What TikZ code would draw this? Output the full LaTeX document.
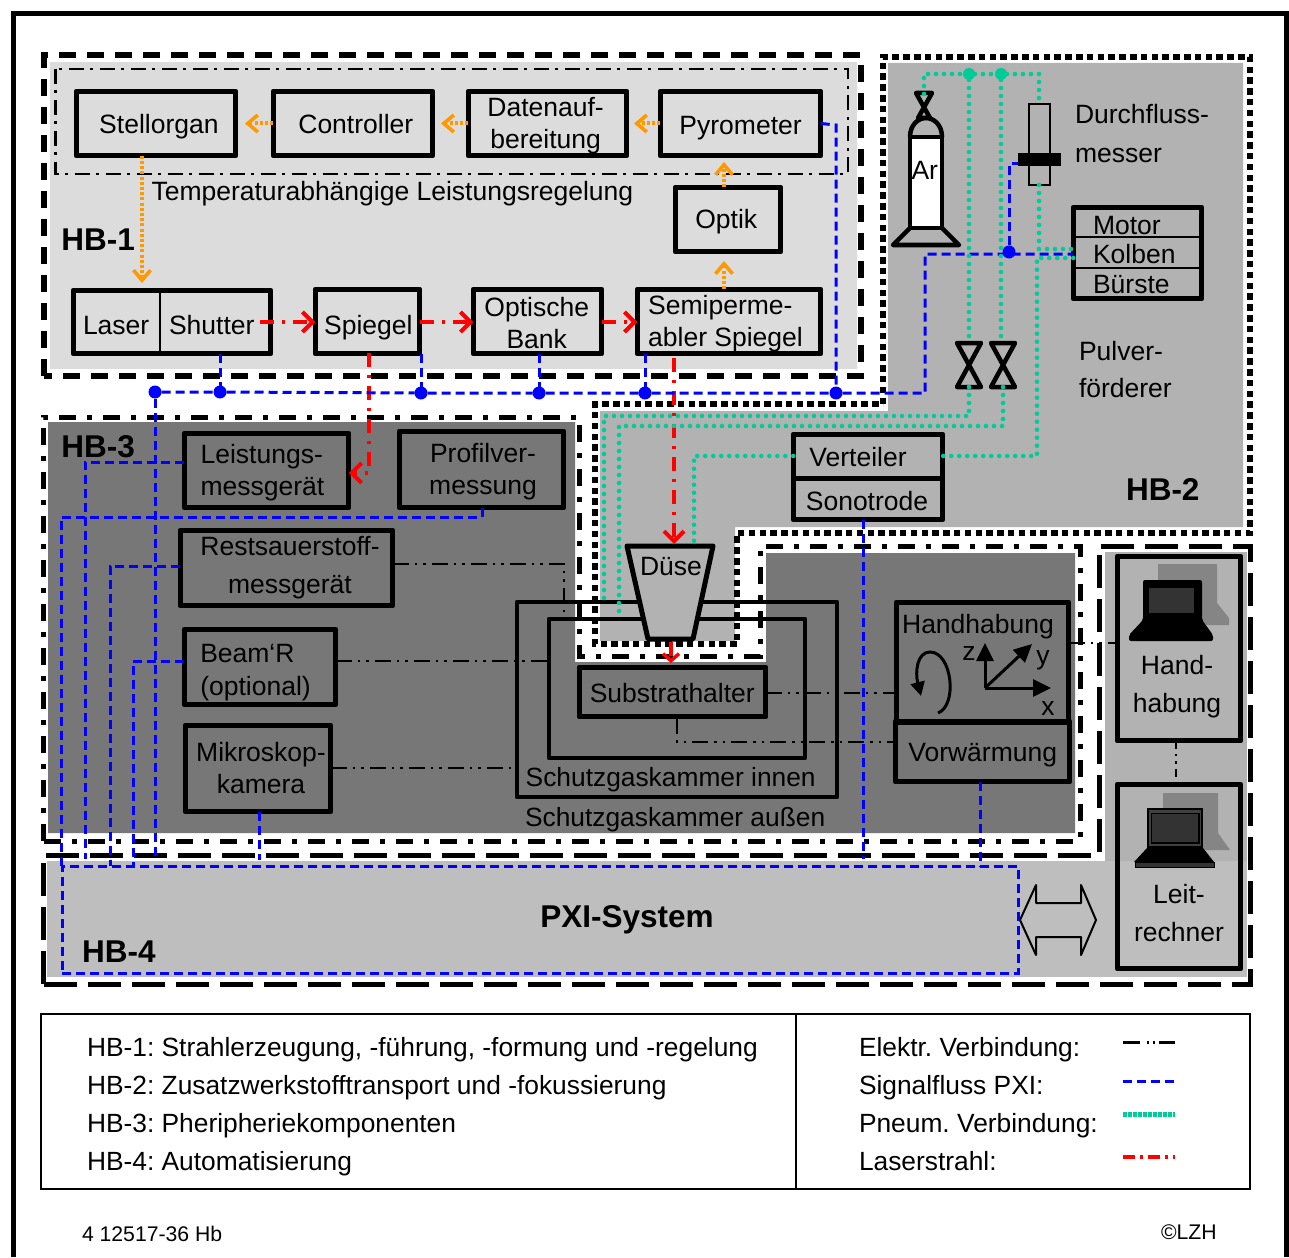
\documentclass[tikz,border=0pt]{standalone}
\usepackage{fontspec}
\setmainfont{Liberation Sans}
\usetikzlibrary{arrows.meta,calc}
\frenchspacing
\definecolor{gOne}{HTML}{DCDCDC}
\definecolor{gTwo}{HTML}{B2B2B2}
\definecolor{gThree}{HTML}{777777}
\definecolor{gFour}{HTML}{BEBEBE}
\definecolor{lzhgreen}{HTML}{00CC99}
\definecolor{lzhorange}{HTML}{FF9900}
\newcommand\txtfont{\fontsize{26.5}{32}\selectfont}
\newcommand\legfont{\fontsize{26.35}{32}\selectfont}
\newcommand\hbfont{\fontsize{31.5}{36}\selectfont\bfseries}
\tikzset{
  x=1pt,y=-1pt,
  every node/.style={inner sep=0pt,outer sep=0pt,font=\txtfont,text=black},
  boxn/.style={draw=black,line width=5.4pt,rectangle,line join=round},
  lbl/.style={anchor=base west,align=left,yshift=-1pt},
  ctr/.style={anchor=base,align=center,yshift=-1pt},
  pxi/.style={draw=blue,line width=3pt,dash pattern=on 9pt off 5pt},
  pneu/.style={draw=lzhgreen,line width=4.6pt,line cap=round,dash pattern=on 0pt off 8pt},
  beam/.style={draw=red,line width=4pt,dash pattern=on 14pt off 8pt on 3pt off 8pt,-{Straight Barb[length=10pt,width=20pt,line width=4pt]}},
  regel/.style={draw=lzhorange,line width=4pt,dash pattern=on 3pt off 2.2pt,-{Straight Barb[length=10pt,width=17pt,line width=3.6pt]}},
  elek/.style={draw=black,line width=2.8pt,dash pattern=on 16pt off 6pt on 2.5pt off 6pt on 2.5pt off 6pt},
  jblue/.style={circle,fill=blue,minimum size=13pt},
  jgreen/.style={circle,fill=lzhgreen,minimum size=12pt},
  frameA/.style={draw=black,line width=5.5pt,dash pattern=on 17pt off 11pt},
  frameB/.style={draw=black,line width=6pt,dash pattern=on 6.5pt off 4.3pt},
  frameC/.style={draw=black,line width=5pt,dash pattern=on 17pt off 11pt on 5pt off 11pt},
  frameD/.style={draw=black,line width=5pt,dash pattern=on 33pt off 11pt},
  frameR/.style={draw=black,line width=2.8pt,dash pattern=on 15pt off 6.5pt on 3pt off 6.5pt},
  symb/.style={draw=black,line width=4.5pt,line join=round},
}
% [options]{name}{x1}{y1}{x2}{y2}{text}: outer edges of the box, border inside
\newcommand\mkbox[7][]{%
  \pgfmathsetmacro\bcx{(#3+#5)/2}\pgfmathsetmacro\bcy{(#4+#6)/2}%
  \node[boxn,minimum width=#5-#3-2.5,minimum height=#6-#4-2.5,#1] (#2) at (\bcx,\bcy) {#7};}
% text of a box: [column type]{centre x}{baseline y of the last line}{line pitch}{lines}
\newcommand\tb[5][c]{%
  \pgfmathsetmacro\tbk{2*(#2-\bcx)}\pgfmathsetmacro\tbr{\bcy-(#3)-1}%
  \makebox[0pt][c]{\kern\tbk pt\raisebox{\tbr pt}[0pt][0pt]{\fontsize{26.5}{#4}\selectfont\begin{tabular}[b]{@{}#1@{}}#5\end{tabular}}}}
\begin{document}
\begin{tikzpicture}
\useasboundingbox (0,0) rectangle (1289,1257);
\fill[white] (0,0) rectangle (1289,1257);
% background regions
\fill[gOne] (50,62) rectangle (857,369);
\fill[gTwo] (888,63) -- (1243,63) -- (1243,527) -- (735,527) -- (735,641) -- (600,641) -- (600,411) -- (888,411) -- cycle;
\fill[gThree] (48,422) -- (575,422) -- (575,662) -- (766,662) -- (766,553) -- (1075,553) -- (1075,833) -- (48,833) -- cycle;
\fill[gTwo] (1105,552) rectangle (1247,861);
\fill[gFour] (47,861) rectangle (1247,977);
% outer frame
\draw[black,line width=5pt] (13,1257) -- (13,14) -- (1286,14) -- (1286,1257);
% group frames
\draw[frameA] (44,376) -- (44,55) -- (861,55) -- (861,376) -- cycle;
\draw[frameB] (883,404) -- (883,57) -- (1250,57) -- (1250,533) -- (737,533) -- (737,644) -- (595,644) -- (595,404) -- cycle;
\draw[frameC] (43,841) -- (43,417) -- (579,417) -- (579,656) -- (760,656) -- (760,546) -- (1080,546) -- (1080,841) -- cycle;
\draw[frameD] (43,984) -- (43,855) -- (1099,855) -- (1099,546) -- (1250,546) -- (1250,984) -- cycle;
\draw[frameR] (55.5,69) rectangle (848,174);
% chambers
\node[boxn,line width=4.5pt,minimum width=320,minimum height=195] (kaussen) at (677,699.5) {};
\node[boxn,line width=4.5pt,minimum width=256,minimum height=139] (kinnen) at (677,688.5) {};
% nozzle
\draw[symb,line width=5pt,fill=gTwo] (627,546) -- (713,546) -- (693,639) -- (648,639) -- cycle;
\coordinate (arv) at (924,94);
\coordinate (gtop) at (924,74);
\coordinate (dfo) at (1039,104);
\coordinate (dfu) at (1039,185);
\coordinate (vA) at (969,343); \coordinate (vAu) at (969,387);
\coordinate (vB) at (1003,343); \coordinate (vBu) at (1003,387);
% boxes of HB-1
\mkbox{stell}{75}{90}{237}{157}{\tb{158.9}{132.3}{32}{Stellorgan}}
\mkbox{contr}{272}{90}{434}{157}{\tb{355.8}{133}{32}{Controller}}
\mkbox{daten}{467}{90}{628}{157}{\tb{545.6}{147.7}{32}{Datenauf-\\bereitung}}
\mkbox{pyro}{659}{90}{822}{157}{\tb{740.6}{133.3}{32}{Pyrometer}}
\mkbox{optik}{674}{186}{782}{253}{\tb{726.2}{227.7}{32}{Optik}}
\mkbox{lasershutter}{72}{289}{272}{355}{}
\node[lbl] (laser) at (83,333) {Laser};
\node[lbl] (shutter) at (169,333) {Shutter};
\draw[black,line width=2pt] (160,289) -- (160,355);
\mkbox{spiegel}{314}{288}{421}{355}{\tb{368.4}{333}{32}{Spiegel}}
\mkbox{bank}{472}{288}{603}{355}{\tb{536.7}{347.3}{32}{Optische\\Bank}}
\mkbox{semi}{636}{288}{822}{355}{\tb[l]{725.5}{345.3}{32}{Semiperme-\\abler Spiegel}}
% boxes of HB-2
\mkbox{motor}{1072}{206}{1203}{300}{}
\draw[black,line width=2.5pt] (1072,237) -- (1203,237) (1072,268) -- (1203,268);
\node[lbl] (tmotor) at (1093,234) {Motor};
\node[lbl] (tkolben) at (1093,262.3) {Kolben};
\node[lbl] (tbuerste) at (1093,292.7) {Bürste};
\mkbox{verteiler}{792}{433}{944}{480}{\tb{858}{465}{32}{Verteiler}}
\mkbox{sono}{792}{477}{944}{521}{\tb{867}{509.3}{32}{Sonotrode}}
% boxes of HB-3
\mkbox{leist}{183}{432}{350}{509}{\tb[l]{262.5}{494.3}{32}{Leistungs-\\messgerät}}
\mkbox{profil}{398}{430}{565}{509}{\tb{483}{493.3}{32}{Profilver-\\messung}}
\mkbox{rest}{179}{529}{394}{607}{\tb{290}{592.7}{38.7}{Restsauerstoff-\\messgerät}}
\mkbox{beamr}{183}{628}{337}{706}{\tb[l]{255.5}{694.3}{32.6}{Beam‘R\\(optional)}}
\mkbox{mikro}{184}{724}{332}{813}{\tb{261}{792.7}{32}{Mikroskop-\\kamera}}
\mkbox{subst}{578}{666}{767}{718}{\tb{672.3}{701}{32}{Substrathalter}}
\mkbox{handh}{895}{601}{1070}{724}{}
\mkbox{vorw}{894}{720}{1071}{783}{\tb{982.7}{760.7}{32}{Vorwärmung}}
\node[ctr] (thandh) at (978,632.7) {Handhabung};
% boxes of HB-4
\mkbox{rhand}{1116}{555}{1242}{742}{}
\mkbox{rleit}{1116}{783}{1242}{970}{}
\node[ctr,font=\fontsize{26.5}{38.4}\selectfont] (trhand) at (1177,711.7) {Hand-\\habung};
\node[ctr,font=\fontsize{26.5}{38}\selectfont] (trleit) at (1179,940.7) {Leit-\\rechner};
% bottle, flow meter, valves
\draw[symb] (910,137) .. controls (910,125) and (918,118) .. (926,118) .. controls (934,118) and (942,125) .. (942,137);
\filldraw[symb,fill=white] (910,137) rectangle (942,228);
\draw[symb] (916,93) -- (932,93) -- (918,118) -- (930,118) -- cycle;
\draw[symb] (910,228) -- (893,245) -- (959,245) -- (942,228);
\node[lbl] (ar) at (911.5,178.3) {Ar};
\node[draw=black,line width=2pt,minimum width=21,minimum height=81] (dfm) at (1039.5,144.5) {};
\node[fill=black,minimum width=43,minimum height=13] (dfband) at (1039.5,159.5) {};
\draw[symb] (957,343) -- (981,343) -- (957,387) -- (981,387) -- cycle;
\draw[symb] (991,343) -- (1015,343) -- (991,387) -- (1015,387) -- cycle;
% Handhabung axes
\coordinate (ax0) at (985,688);
\coordinate (axz) at (985,643);
\coordinate (axy) at (1032,644);
\coordinate (axx) at (1051,688);
\draw[black,line width=3pt,-{Triangle[length=18pt,width=17pt]}] (ax0) -- (axz);
\draw[black,line width=3pt,-{Triangle[length=18pt,width=17pt]}] (ax0) -- (axy);
\draw[black,line width=3pt,-{Triangle[length=18pt,width=17pt]}] (ax0) -- (axx);
\node[ctr] (tz) at (969,659) {z};
\node[ctr] (ty) at (1043,663) {y};
\node[ctr] (tx) at (1048,714) {x};
\draw[black,line width=3pt,-{Triangle[length=14pt,width=14pt]}] (938,713) .. controls (958,705) and (952,652) .. (930,652) .. controls (917,652) and (915,672) .. (921,696);
% laptops
\fill[black!48] (1158,564) -- (1217,564) -- (1217,603) -- (1229,618) -- (1229,625) -- (1158,625) -- cycle;
\fill[black,rounded corners=2pt] (1143,580) -- (1202,580) -- (1202,620) -- (1213,635) -- (1213,641) -- (1129,641) -- (1129,635) -- (1143,620) -- cycle;
\fill[black!80] (1149,588) rectangle (1194,613);
\fill[black!48] (1163,793) -- (1218,793) -- (1218,833) -- (1230,850) -- (1163,850) -- cycle;
\fill[black] (1147,808) rectangle (1203,848);
\fill[black!75] (1149,810) rectangle (1201,846);
\fill[black] (1150.5,812.5) rectangle (1199.5,843.5);
\fill[black!80] (1152,814) rectangle (1198,842);
\fill[black] (1147,848) -- (1203,848) -- (1214,862) -- (1134,862) -- cycle;
\fill[black!80] (1135,862) rectangle (1214,867);
\draw[black,line width=1pt] (1135,862) rectangle (1214,867);
% double arrow
\draw[black,line width=2pt,line join=round] (1020,920) -- (1036,885) -- (1036,903) -- (1081,903) -- (1081,885) -- (1096,920) -- (1081,955) -- (1081,937) -- (1036,937) -- (1036,955) -- cycle;
% orange control loop
\draw[regel] (pyro.west) -- (daten.east -| 634,0);
\draw[regel] (daten.west) -- (contr.east -| 441,0);
\draw[regel] (contr.west) -- (stell.east -| 245,0);
\draw[regel] (stell.south -| 142,0) -- (142,283);
\draw[regel] (optik.north -| 724,0) -- (724,162);
\draw[regel] (semi.north -| 724,0) -- (724,261);
% laser beam
\draw[beam] (260,322) -- (spiegel.west |- 0,322);
\draw[beam] (spiegel.east |- 0,322) -- (bank.west |- 0,322);
\draw[beam] (bank.east |- 0,322) -- (semi.west |- 0,322);
\draw[beam] (368.5,353) -- (368.5,473) -- (leist.east |- 0,473);
\draw[beam] (674,358) -- (674,544);
\draw[beam,-{Straight Barb[length=7pt,width=16pt,line width=3.5pt]}] (671,642) -- (671,663);
% PXI signals
\node[jblue] (j1) at (155,392) {};
\node[jblue] (j2) at (220,392) {};
\node[jblue] (j3) at (421,393) {};
\node[jblue] (j4) at (539,393) {};
\node[jblue] (j5) at (645,393) {};
\node[jblue] (j6) at (836,393) {};
\node[jblue] (j7) at (1009,252) {};
\draw[pxi] (j1) -- (j2) -- (j3) -- (j4) -- (j5) -- (j6) -- (925,393) -- (925,254) -- (motor.west |- 0,254);
\draw[pxi] (lasershutter.south -| 220,0) -- (j2);
\draw[pxi] (spiegel.south -| 421,0) -- (j3);
\draw[pxi] (bank.south -| j4) -- (j4);
\draw[pxi] (semi.south -| 645,0) -- (j5);
\draw[pxi] (pyro.east) -- (836,125) -- (j6);
\draw[pxi] (j7) -- (1009,164) -- (dfband.west |- 0,164);
\draw[pxi] (j1) -- (155,859);
\draw[pxi] (leist.west |- 0,462) -- (85,462) -- (85,859);
\draw[pxi] (profil.south -| 482,0) -- (482,517) -- (61,517) -- (61,866);
\draw[pxi] (rest.west |- 0,566) -- (110,566) -- (110,866);
\draw[pxi] (beamr.west |- 0,661) -- (133,661) -- (133,866);
\draw[pxi] (mikro.south -| 259,0) -- (259,860);
\draw[pxi] (sono.south -| 863,0) -- (863,859);
\draw[pxi] (vorw.south -| 980,0) -- (980,866);
\node[draw=blue,line width=3pt,dash pattern=on 9pt off 5pt,minimum width=956,minimum height=107] (pxi) at (540,919.5) {};
\node[ctr,font=\hbfont] (tpxi) at (627,926) {PXI-System};
% pneumatic lines
\node[jgreen] (g1) at (969,74) {};
\node[jgreen] (g2) at (1001,74) {};
\draw[pneu] (arv) -- (gtop) -- (g1) -- (g2) -- (1039,74) -- (dfo);
\draw[pneu] (g1) -- (vA);
\draw[pneu] (g2) -- (1001,343);
\draw[pneu] (vAu) -- (969,416) -- (604,416) -- (604,600);
\draw[pneu] (vBu) -- (1003,426) -- (619,426) -- (619,611);
\draw[pneu] (dfu) -- (1039,249) -- (motor.west |- 0,249);
\draw[pneu] (motor.west |- 0,258) -- (1037,258) -- (1037,456) -- (verteiler.east |- 0,456);
\draw[pneu] (verteiler.west |- 0,456) -- (694,456) -- (694,546);
% electrical lines
\draw[elek] (rest.east |- 0,564) -- (564,564) -- (564,617);
\draw[elek] (beamr.east |- 0,661) -- (kinnen.west |- 0,661);
\draw[elek] (mikro.east |- 0,768) -- (kaussen.west |- 0,768);
\draw[elek] (subst.east |- 0,693) -- (handh.west |- 0,693);
\draw[elek] (677,718) -- (677,742) -- (vorw.west |- 0,742);
\draw[elek,line width=2pt] (handh.east |- 0,643) -- (rhand.west |- 0,643);
\draw[elek,dash pattern=on 8pt off 5pt on 2.5pt off 5pt on 2.5pt off 5pt on 8pt] (rhand.south -| 1176,0) -- (rleit.north -| 1176,0);
% free labels
\node[lbl] (ttemp) at (151.5,199.3) {Temperaturabhängige Leistungsregelung};
\node[lbl,font=\fontsize{26.5}{39}\selectfont] (tdurch) at (1075,161.7) {Durchfluss-\\messer};
\node[lbl,font=\fontsize{26.5}{37.7}\selectfont] (tpulver) at (1079,396.7) {Pulver-\\förderer};
\node[lbl,font=\legfont] (tinnen) at (525.7,785) {Schutzgaskammer innen};
\node[lbl,font=\legfont] (taussen) at (525,825) {Schutzgaskammer außen};
\node[lbl] (tduese) at (640,574.3) {Düse};
\node[lbl,font=\hbfont] (hb1) at (61.4,249.3) {HB-1};
\node[lbl,font=\hbfont] (hb2) at (1126,499) {HB-2};
\node[lbl,font=\hbfont] (hb3) at (61.3,456.7) {HB-3};
\node[lbl,font=\hbfont] (hb4) at (82.2,961.7) {HB-4};
% legend
\draw[black,line width=2.5pt] (41,1014) rectangle (1250,1189);
\draw[black,line width=2.5pt] (796,1014) -- (796,1189);
\node[lbl,font=\legfont] (l1) at (87,1055) {HB-1: Strahlerzeugung, -führung, -formung und -regelung};
\node[lbl,font=\legfont] (l2) at (87,1093.3) {HB-2: Zusatzwerkstofftransport und -fokussierung};
\node[lbl,font=\legfont] (l3) at (87,1131.7) {HB-3: Pheripheriekomponenten};
\node[lbl,font=\legfont] (l4) at (87,1169.5) {HB-4: Automatisierung};
\node[lbl,font=\legfont] (r1) at (859,1055) {Elektr. Verbindung:};
\node[lbl,font=\legfont] (r2) at (859,1093.3) {Signalfluss PXI:};
\node[lbl,font=\legfont] (r3) at (859,1131.7) {Pneum. Verbindung:};
\node[lbl,font=\legfont] (r4) at (859,1169.5) {Laserstrahl:};
\coordinate (s1a) at (1123,1042); \coordinate (s1b) at (1175,1042);
\coordinate (s2a) at (1123,1081); \coordinate (s2b) at (1175,1081);
\coordinate (s3a) at (1123,1114); \coordinate (s3b) at (1175,1114);
\coordinate (s4a) at (1123,1157); \coordinate (s4b) at (1175,1157);
\draw[black,line width=3pt,dash pattern=on 17pt off 7pt on 2pt off 4pt on 2pt off 4pt on 20pt] (s1a) -- (s1b);
\draw[pxi] (s2a) -- (s2b);
\draw[lzhgreen,line width=5pt,dash pattern=on 3.5pt off 1.5pt] (s3a) -- (s3b);
\draw[red,line width=4pt,dash pattern=on 12pt off 5pt on 3pt off 5pt] (s4a) -- (s4b);
% footer
\node[lbl,font=\fontsize{21.2}{24}\selectfont] (fl) at (82,1240) {4 12517-36 Hb};
\node[lbl,font=\fontsize{21.2}{24}\selectfont] (fr) at (1161,1238) {©LZH};
\end{tikzpicture}
\end{document}
